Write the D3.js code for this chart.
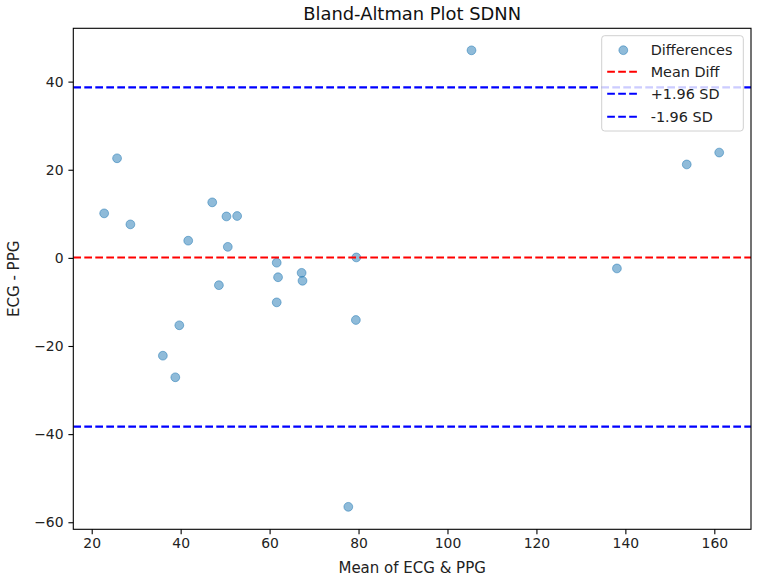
<!DOCTYPE html>
<html>
<head>
<meta charset="utf-8">
<script src="https://cdn.jsdelivr.net/npm/d3@7"></script>
<style>
  body { margin: 0; background: #fff; }
  svg { font-family: "DejaVu Sans", sans-serif; }
</style>
</head>
<body>
<svg id="chart" width="760" height="579"></svg>
<script>
// mean of ECG & PPG (x) and ECG - PPG (y)
var means = [22.8, 25.7, 28.7, 41.7, 47.1, 50.3, 52.7, 50.6, 48.6, 61.6, 61.9, 67.2,
  67.4, 79.5, 61.6, 79.4, 39.7, 36.0, 38.8, 77.7, 105.4, 153.8, 161.1, 138.1];
var diffs = [10.1, 22.6, 7.6, 3.9, 12.6, 9.4, 9.5, 2.5, -6.2, -1.1, -4.4, -3.4,
  -5.2, 0.1, -10.1, -14.1, -15.3, -22.2, -27.1, -56.5, 47.1, 21.2, 23.9, -2.4];
var limitNames = ["Mean Diff", "+1.96 SD", "-1.96 SD"];
var limitValues = [0.1, 38.7, -38.3];
var limitColors = ["red", "blue", "blue"];
var xTicks = [20, 40, 60, 80, 100, 120, 140, 160];
var yTicks = [-60, -40, -20, 0, 20, 40];

var svg = d3.select("#chart"),
  margin = { top: 28.3, right: 9, bottom: 49.7, left: 73.3 },
  width = +svg.attr("width") - margin.left - margin.right,
  height = +svg.attr("height") - margin.top - margin.bottom,
  g = svg.append("g")
    .attr("transform", "translate(" + margin.left + "," + margin.top + ")");

var x = d3.scaleLinear().domain([15.86, 168.25]).range([0, width]);
var y = d3.scaleLinear().domain([-61.6, 52.1]).range([height, 0]);

var points = means.map(function(m, i) { return { x: m, y: diffs[i] }; });

g.append("clipPath").attr("id", "clip")
  .append("rect").attr("width", width).attr("height", height);

var plot = g.append("g").attr("clip-path", "url(#clip)");

plot.selectAll("circle")
  .data(points)
  .enter().append("circle")
  .attr("cx", function(d) { return x(d.x); })
  .attr("cy", function(d) { return y(d.y); })
  .attr("r", 4.4)
  .attr("fill", "#1f77b4")
  .attr("fill-opacity", 0.5)
  .attr("stroke", "#1f77b4")
  .attr("stroke-opacity", 0.5)
  .attr("stroke-width", 1);

plot.selectAll(".limit")
  .data(limitValues)
  .enter().append("line")
  .attr("class", "limit")
  .attr("x1", 0)
  .attr("x2", width)
  .attr("y1", function(d) { return y(d); })
  .attr("y2", function(d) { return y(d); })
  .attr("stroke", function(d, i) { return limitColors[i]; })
  .attr("stroke-width", 2.08)
  .attr("stroke-dasharray", "7.7,3.3");

// axes
var xAxis = g.append("g")
  .attr("transform", "translate(0," + height + ")")
  .call(d3.axisBottom(x).tickValues(xTicks).tickSize(4.9).tickPadding(4))
  .style("font-size", "13.9px")
  .style("font-family", "DejaVu Sans");
var yAxis = g.append("g")
  .call(d3.axisLeft(y).tickValues(yTicks).tickSize(4.9).tickPadding(4.9)
    .tickFormat(function(d) { return d < 0 ? "\u2212" + Math.abs(d) : d; }))
  .style("font-size", "13.9px")
  .style("font-family", "DejaVu Sans");
[xAxis, yAxis].forEach(function(a) {
  a.select(".domain").remove();
  a.selectAll(".tick line").attr("stroke", "#000").attr("stroke-width", 1.1);
  a.selectAll(".tick text").attr("fill", "#222");
});

g.append("rect")
  .attr("width", width)
  .attr("height", height)
  .attr("fill", "none")
  .attr("stroke", "#000")
  .attr("stroke-width", 1.1);

// labels
svg.append("text")
  .attr("x", margin.left + width / 2)
  .attr("y", 20)
  .attr("text-anchor", "middle")
  .style("font-size", "17.9px")
  .attr("fill", "#111")
  .text("Bland-Altman Plot SDNN");

svg.append("text")
  .attr("x", margin.left + width / 2)
  .attr("y", 573)
  .attr("text-anchor", "middle")
  .style("font-size", "15px")
  .attr("fill", "#222")
  .text("Mean of ECG & PPG");

svg.append("text")
  .attr("transform", "translate(19," + (margin.top + height / 2) + ") rotate(-90)")
  .attr("text-anchor", "middle")
  .style("font-size", "15px")
  .attr("fill", "#222")
  .text("ECG - PPG");

// legend
var legend = svg.append("g").attr("transform", "translate(601.7,35.7)");
legend.append("rect")
  .attr("width", 141.6)
  .attr("height", 95.3)
  .attr("rx", 3)
  .attr("fill", "#fff")
  .attr("fill-opacity", 0.8)
  .attr("stroke", "#d0d0d0")
  .attr("stroke-width", 1);

var rows = ["Differences"].concat(limitNames);
var rowY = [14, 36, 58, 81];
rows.forEach(function(name, i) {
  var ry = rowY[i];
  if (i === 0) {
    legend.append("circle")
      .attr("cx", 21.6).attr("cy", ry + 0.5).attr("r", 4.4)
      .attr("fill", "#1f77b4").attr("fill-opacity", 0.5)
      .attr("stroke", "#1f77b4").attr("stroke-opacity", 0.5);
  } else {
    legend.append("line")
      .attr("x1", 5.5).attr("x2", 36.5)
      .attr("y1", ry).attr("y2", ry)
      .attr("stroke", limitColors[i - 1])
      .attr("stroke-width", 2.08)
      .attr("stroke-dasharray", "7.7,3.3");
  }
  legend.append("text")
    .attr("x", 49)
    .attr("y", ry + 5)
    .style("font-size", "14.4px")
    .attr("fill", "#222")
    .text(name);
});
</script>
</body>
</html>
